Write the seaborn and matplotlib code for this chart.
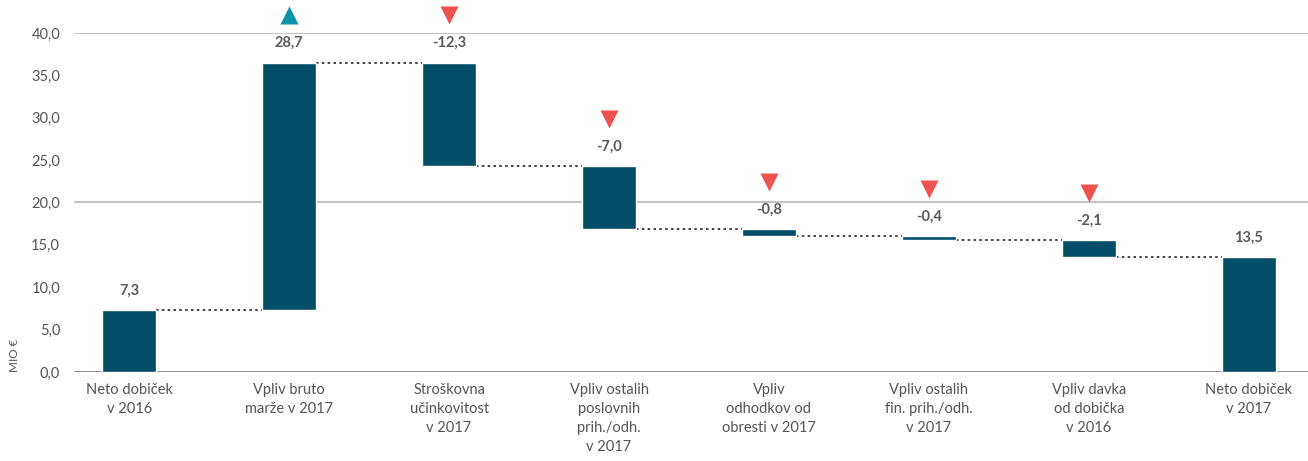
import numpy as np
import matplotlib
matplotlib.use("Agg")
import matplotlib.pyplot as plt
import seaborn as sns

categories = ["Neto dobiček\nv 2016", "Vpliv bruto\nmarže v 2017", "Stroškovna\nučinkovitost\nv 2017",
              "Vpliv ostalih\nposlovnih\nprih./odh.\nv 2017", "Vpliv\nodhodkov od\nobresti v 2017",
              "Vpliv ostalih\nfin. prih./odh.\nv 2017", "Vpliv davka\nod dobička\nv 2016", "Neto dobiček\nv 2017"]
changes = [7.3, 28.7, -12.3, -7.0, -0.8, -0.4, -2.1, 13.5]
# running total after each step, as drawn in the picture
levels = [7.3, 36.5, 24.3, 16.9, 16.05, 15.6, 13.55, 13.55]

sns.set_style("white")
plt.rcParams["font.family"] = ["Lato", "DejaVu Sans"]

bottoms = [0] + levels[:-2] + [0]
tops = levels[:-1] + [levels[-1]]
lo = [min(b, t) for b, t in zip(bottoms, tops)]
hi = [max(b, t) for b, t in zip(bottoms, tops)]
heights = [h - l for h, l in zip(hi, lo)]

fig = plt.figure(figsize=(13.08, 4.61), dpi=100)
ax = fig.add_axes([74 / 1308, 1 - 372 / 461, 1 - 74 / 1308, 339 / 461])

bw = 0.34
sns.barplot(x=categories, y=heights, bottom=lo, color="#024E68", saturation=1,
            width=bw, ax=ax, zorder=3)

ax.set_ylim(0, 40)
ax.set_xlim(-0.345, 7.37)
ax.set_yticks(np.arange(0, 41, 5))
ax.set_yticklabels([f"{v:.1f}".replace(".", ",") for v in np.arange(0, 41, 5)])
for y in (20, 40):
    ax.axhline(y, color="#c4c4c4", lw=1.5, zorder=1)
ax.axhline(0, color="#8a8a8a", lw=1.3, zorder=2)
for s in ax.spines.values():
    s.set_visible(False)
ax.tick_params(axis="y", length=0, pad=10, labelsize=10.5, labelcolor="#555555")
ax.tick_params(axis="x", length=0, pad=8, labelsize=10.5, labelcolor="#555555")
for t in ax.get_xticklabels():
    t.set_linespacing(1.45)
ax.set_xlabel("")
ax.set_ylabel("")

# connectors
for i in range(len(categories) - 1):
    ax.plot([i + bw / 2, i + 1 - bw / 2], [levels[i], levels[i]], color="#222222",
            lw=1.2, ls=(0, (1.5, 2)), zorder=2)

for i, (c, h) in enumerate(zip(changes, hi)):
    txt = f"{c:.1f}".replace(".", ",")
    ax.annotate(txt, (i, h), xytext=(0, 14), textcoords="offset points", ha="center",
                va="center", fontsize=10.5, fontweight="bold", color="#5a5a5a",
                annotation_clip=False)
    if 0 < i < len(categories) - 1:
        up = c > 0
        ax.annotate("", (i, h), xytext=(0, 34), textcoords="offset points",
                    annotation_clip=False)
        ax.plot([i], [h], marker="^" if up else "v", ms=13, mec="none",
                color="#0A94A9" if up else "#EE5351", clip_on=False, zorder=4,
                transform=ax.transData + matplotlib.transforms.ScaledTranslation(0, 34 / 72, fig.dpi_scale_trans))

fig.text(15 / 1308, 1 - 372 / 461, "MIO €", rotation=90, ha="center", va="bottom",
         fontsize=8.5, color="#555555")

fig.savefig("out.png", dpi=100)
